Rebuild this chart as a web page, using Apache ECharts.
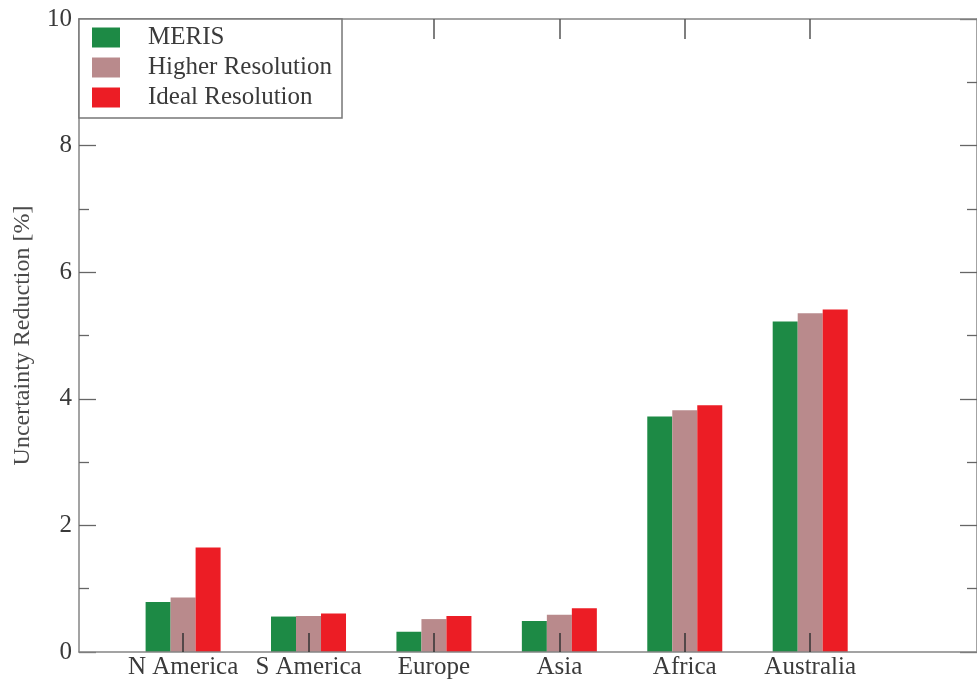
<!DOCTYPE html>
<html>
<head>
<meta charset="utf-8">
<script src="https://cdn.jsdelivr.net/npm/echarts@6/dist/echarts.min.js"></script>
<style>
  html, body { margin: 0; padding: 0; background: #fff; }
  #chart { width: 977px; height: 681px; }
</style>
</head>
<body>
<div id="chart"></div>
<script>
// Regions along the x axis
const regions = ['N America', 'S America', 'Europe', 'Asia', 'Africa', 'Australia'];

// Uncertainty reduction [%] per region for each observation scenario
const meris = [0.79, 0.56, 0.32, 0.49, 3.72, 5.22];
const higherResolution = [0.86, 0.57, 0.52, 0.59, 3.82, 5.35];
const idealResolution = [1.65, 0.61, 0.57, 0.69, 3.90, 5.41];

// Y axis ticks
const yTicks = [0, 2, 4, 6, 8, 10];

const seriesNames = ['MERIS', 'Higher Resolution', 'Ideal Resolution'];
const seriesColors = ['#1d8a45', '#b98a8c', '#ec1d25'];
const seriesValues = [meris, higherResolution, idealResolution];

const FONT = '"Liberation Serif", "DejaVu Serif", serif';
const TEXT = '#3a3a3a';
const LINE = '#858585';

// Region i sits at x = i + 1 on the horizontal value scale
const regionPositions = regions.map((r, i) => i + 1);

const chart = echarts.init(document.getElementById('chart'), null, { renderer: 'canvas' });

const xCommon = {
  type: 'value',
  min: 0.17,
  max: 7.33,
  z: 3,
  splitLine: { show: false },
  axisLine: { show: true, onZero: false, lineStyle: { color: LINE, width: 1.5 } }
};

const yCommon = {
  type: 'value',
  min: yTicks[0],
  max: yTicks[yTicks.length - 1],
  interval: yTicks[1] - yTicks[0],
  splitLine: { show: false },
  axisLine: { show: true, onZero: false, lineStyle: { color: LINE, width: 1.5 } },
  axisTick: { show: true, inside: true, length: 17, lineStyle: { color: '#666', width: 1.3 } },
  minorTick: { show: true, splitNumber: 2, length: 10, lineStyle: { color: '#666', width: 1.3 } },
  minorSplitLine: { show: false }
};

chart.setOption({
  animation: false,
  backgroundColor: '#ffffff',
  grid: { left: 79, top: 19, right: -4, bottom: 29, containLabel: false },
  legend: {
    left: 79,
    top: 19,
    z: 10,
    orient: 'vertical',
    data: seriesNames,
    itemWidth: 28,
    itemHeight: 20,
    itemGap: 5,
    padding: [6, 10, 8, 13],
    borderColor: '#777',
    borderWidth: 1.5,
    backgroundColor: '#fff',
    icon: 'rect',
    textStyle: {
      fontFamily: FONT,
      fontSize: 25,
      color: TEXT,
      padding: [0, 0, 0, 23]
    }
  },
  xAxis: [
    Object.assign({}, xCommon, {
      position: 'bottom',
      axisTick: {
        show: true, inside: true, length: 19,
        customValues: regionPositions,
        lineStyle: { color: '#333', width: 1.5 }
      },
      axisLabel: {
        show: true,
        customValues: regionPositions,
        formatter: v => regions[Math.round(v) - 1] || '',
        fontFamily: FONT,
        fontSize: 25,
        color: TEXT,
        margin: 3
      }
    }),
    Object.assign({}, xCommon, {
      position: 'top',
      axisTick: {
        show: true, inside: true, length: 20,
        customValues: regionPositions,
        lineStyle: { color: '#555', width: 1.5 }
      },
      axisLabel: { show: false }
    })
  ],
  yAxis: [
    Object.assign({}, yCommon, {
      position: 'left',
      name: 'Uncertainty Reduction [%]',
      nameLocation: 'middle',
      nameGap: 44,
      nameTextStyle: { fontFamily: FONT, fontSize: 24, color: '#4a4a4a' },
      axisLabel: { show: true, fontFamily: FONT, fontSize: 25, color: TEXT, margin: 7 }
    }),
    Object.assign({}, yCommon, {
      position: 'right',
      axisLabel: { show: false }
    })
  ],
  series: seriesNames.map((name, s) => ({
    name: name,
    type: 'bar',
    xAxisIndex: 0,
    yAxisIndex: 0,
    barWidth: 25,
    barGap: '0%',
    itemStyle: { color: seriesColors[s] },
    data: regionPositions.map((x, i) => [x, seriesValues[s][i]])
  }))
});
</script>
</body>
</html>
